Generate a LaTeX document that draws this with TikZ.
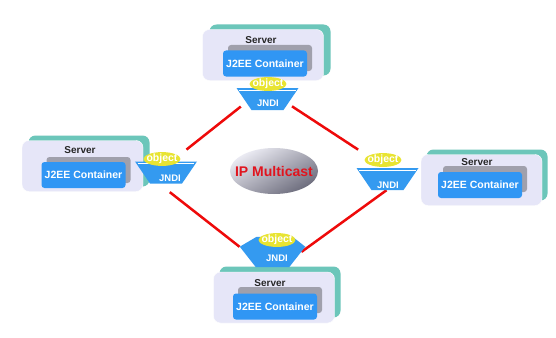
\documentclass[tikz,border=0pt]{standalone}
\usepackage{fontspec}
\setmainfont{Liberation Sans}
\usetikzlibrary{shapes.geometric}

\pgfdeclarelayer{bg}
\pgfdeclarelayer{links}
\pgfsetlayers{bg,links,main}

\definecolor{srvteal}{RGB}{108,198,186}
\definecolor{srvlav}{RGB}{230,230,248}
\definecolor{contgray}{RGB}{160,160,172}
\definecolor{contblue}{RGB}{48,150,244}
\definecolor{jndiblue}{RGB}{52,154,240}
\definecolor{objyellow}{RGB}{232,228,50}
\definecolor{linkred}{RGB}{238,10,10}
\definecolor{mcastred}{RGB}{225,20,30}
\definecolor{mcastlight}{RGB}{236,236,244}
\definecolor{mcastdark}{RGB}{108,108,124}

\begin{document}
\begin{tikzpicture}[x=1pt, y=-1pt,
    every node/.style={font=\fontsize{10}{12}\selectfont\bfseries},
    srvback/.style={fill=srvteal, rounded corners=7pt, minimum width=121,
        minimum height=51, inner sep=0},
    srvbox/.style={fill=srvlav, draw=white, rounded corners=7pt,
        minimum width=121, minimum height=51, inner sep=0},
    srvlbl/.style={text=black!85, inner sep=0},
    contback/.style={fill=contgray, rounded corners=3pt, minimum width=84,
        minimum height=26, inner sep=0},
    cont/.style={fill=contblue, text=white, rounded corners=3pt,
        minimum width=84, minimum height=26, inner sep=0,
        font=\fontsize{10.5}{12}\selectfont\bfseries},
    jndi/.style={trapezium, trapezium left angle=115,
        trapezium right angle=115, trapezium stretches=true,
        minimum width=62, minimum height=22, inner sep=1pt, fill=jndiblue},
    jlbl/.style={text=white, inner sep=0,
        font=\fontsize{9.5}{11}\selectfont\bfseries},
    obj/.style={ellipse, fill=objyellow, text=white, inner xsep=-2.4pt,
        inner ysep=0pt, minimum width=34, minimum height=12,
        font=\fontsize{10.5}{12}\selectfont\bfseries},
    mcast/.style={ellipse, top color=mcastlight, bottom color=mcastdark,
        shading angle=30, text=mcastred, minimum width=88,
        minimum height=46, inner xsep=-8pt, inner ysep=0pt,
        font=\fontsize{14}{16}\selectfont\bfseries},
    link/.style={linkred, line width=2.5pt}]

    % Fondo.
    \begin{pgfonlayer}{bg}
        \fill[white] (0,0) rectangle (556,337);
    \end{pgfonlayer}
    \useasboundingbox (0,0) rectangle (556,337);

    % Servidor superior.
    \node[srvback] (sbT) at (270,50) {};
    \node[srvbox] (sT) at (263,55) {};
    \node[srvlbl] (slT) at (261,40) {Server};
    \node[contback] (cbT) at (270,58) {};
    \node[cont] (cT) at (265,63.5) {J2EE Container};

    % Servidor izquierdo.
    \node[srvback] (sbL) at (89,161) {};
    \node[srvbox] (sL) at (82.5,166) {};
    \node[srvlbl] (slL) at (80,150) {Server};
    \node[contback] (cbL) at (88.5,170) {};
    \node[cont] (cL) at (83.5,175) {J2EE Container};

    % Servidor derecho.
    \node[srvback] (sbR) at (487,175) {};
    \node[srvbox] (sR) at (481.5,180) {};
    \node[srvlbl] (slR) at (477,162) {Server};
    \node[contback] (cbR) at (485,179) {};
    \node[cont] (cR) at (480,185) {J2EE Container};

    % Servidor inferior.
    \node[srvback] (sbB) at (280,292) {};
    \node[srvbox] (sB) at (274,297.5) {};
    \node[srvlbl] (slB) at (270,283) {Server};
    \node[contback] (cbB) at (280,300) {};
    \node[cont] (cB) at (275,306.5) {J2EE Container};

    % Nodos JNDI con su objeto.
    \node[jndi] (jndiT) at (267.5,99) {};
    \node[jndi] (jndiL) at (166,172.5) {};
    \node[jndi] (jndiR) at (387.5,179) {};
    \node[jndi, minimum width=65, minimum height=20] (jndiB) at (272.5,257) {};
    \fill[jndiblue] (jndiB.top left corner) -- ++(17,-10) -- ++(36,0)
        -- (jndiB.top right corner) -- cycle;
    \foreach \j in {jndiT,jndiL,jndiR}
        \draw[white, line width=1pt]
            ([xshift=3pt,yshift=-2.5pt]\j.top left corner)
            -- ([xshift=-3pt,yshift=-2.5pt]\j.top right corner);
    \node[jlbl] (jtT) at (268,103) {JNDI};
    \node[jlbl] (jtL) at (170,178) {JNDI};
    \node[jlbl] (jtR) at (388,185) {JNDI};
    \node[jlbl] (jtB) at (277,258) {JNDI};
    \node[obj] (objT) at (268,84) {object};
    \node[obj] (objL) at (162,159) {object};
    \node[obj] (objR) at (383,160) {object};
    \node[obj] (objB) at (277,240) {object};

    % Nube de multicast.
    \node[mcast] (ipm) at (274,171) {IP Multicast};

    % Enlaces rojos entre los JNDI.
    \begin{pgfonlayer}{links}
        \draw[link, shorten <=6.7pt, shorten >=10pt] (jndiT.189) -- (objL.11);
        \draw[link, shorten <=4.7pt, shorten >=11.5pt] (jndiT.347) -- (objR.165);
        \draw[link, shorten <=13.7pt] (jndiL.238) -- (jndiB.top left corner);
        \draw[link] (jndiR.265) -- (jndiB.10);
    \end{pgfonlayer}
\end{tikzpicture}
\end{document}
